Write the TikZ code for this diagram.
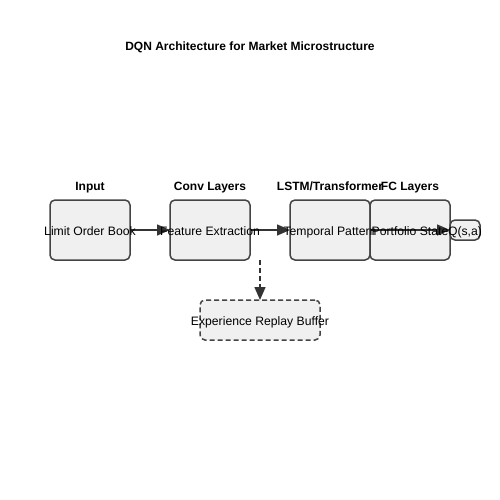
\documentclass[tikz,border=0pt]{standalone}
\usepackage{fontspec}
\setmainfont{Liberation Sans}
\usetikzlibrary{arrows.meta}
\definecolor{boxfill}{HTML}{F0F0F0}
\definecolor{boxline}{HTML}{444444}
\definecolor{arrowc}{HTML}{333333}
\begin{document}
\begin{tikzpicture}[x=1pt,y=-1pt,
  layerbox/.style={draw=boxline, fill=boxfill, line width=1.5pt, rounded corners=5pt,
    minimum width=80pt, minimum height=60pt, inner sep=0pt, outer sep=0pt},
  smallbox/.style={draw=boxline, fill=boxfill, line width=1.5pt, rounded corners=5pt,
    minimum width=30pt, minimum height=20pt, inner sep=0pt, outer sep=0pt},
  bufbox/.style={draw=boxline, fill=boxfill, line width=1.5pt, rounded corners=5pt, dashed,
    dash pattern=on 5pt off 3pt,
    minimum width=120pt, minimum height=40pt, inner sep=0pt, outer sep=0pt},
  txt/.style={font=\fontsize{12.2}{14}\selectfont, inner sep=0pt, text=black, anchor=base},
  head/.style={font=\bfseries\fontsize{12}{14}\selectfont, inner sep=0pt, anchor=base},
  conn/.style={draw=arrowc, line width=1.5pt, -{Triangle[length=13pt,width=11pt]}},
]
\useasboundingbox (0,0) rectangle (500,500);
\node[head] (title) at (250,50.5) {DQN Architecture for Market Microstructure};

\node[head] (h1) at (90,190.5) {Input};
\node[head] (h2) at (210,190.5) {Conv Layers};
\node[head] (h3) at (330,190.5) {LSTM/Transformer};
\node[head] (h4) at (410,190.5) {FC Layers};

\node[layerbox] (inp) at (90,230) {};
\node[layerbox] (conv) at (210,230) {};
\node[layerbox] (lstm) at (330,230) {};
\node[layerbox] (fc) at (410,230) {};
\node[smallbox] (q) at (465,230) {};
\node[bufbox] (buf) at (260,320) {};

\coordinate (convout) at (260,260);

\draw[conn] (inp.east) -- (conv.west);
\draw[conn] (conv.east) -- (lstm.west);
\draw[conn] (fc.west) -- (q.west);
\draw[conn, dashed, dash pattern=on 5pt off 3pt] (convout) -- (buf.north);

\node[txt] (t1) at (90,235.5) {Limit Order Book};
\node[txt] (t2) at (210,235.5) {Feature Extraction};
\node[txt] (t3) at (330,235.5) {Temporal Pattern};
\node[txt] (t4) at (410,235.5) {Portfolio State};
\node[txt] (t5) at (465,235.5) {Q(s,a)};
\node[txt] (t6) at (260,325.5) {Experience Replay Buffer};
\end{tikzpicture}
\end{document}
